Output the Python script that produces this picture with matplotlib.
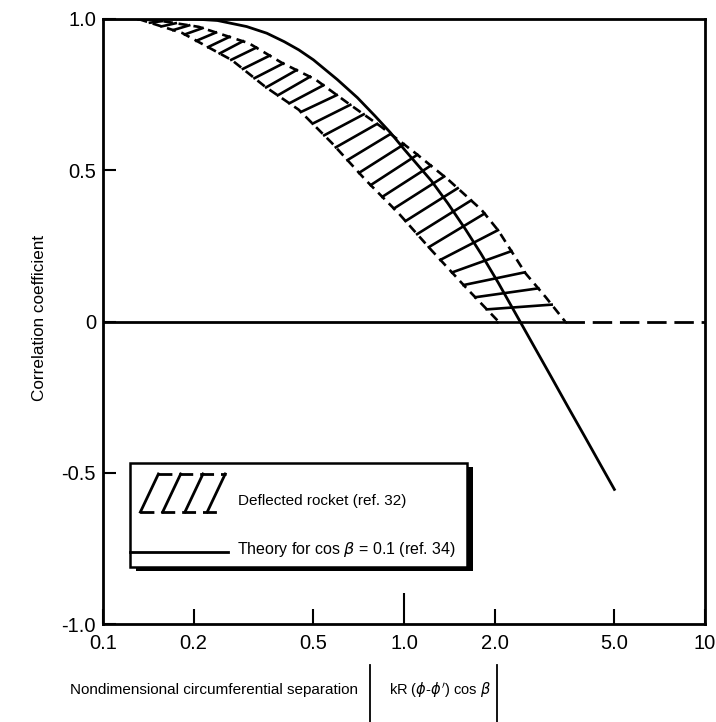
import matplotlib
matplotlib.use("Agg")
import matplotlib.pyplot as plt
from matplotlib.lines import Line2D
from matplotlib.patches import Rectangle
import numpy as np

plt.rcParams['font.family'] = ['Liberation Sans', 'DejaVu Sans']

# theory curve, cos beta = 0.1 (ref. 34)
theory_x = [0.1, 0.2, 0.24, 0.3, 0.35, 0.4, 0.447, 0.5, 0.6, 0.7, 0.8, 0.9, 1.0,
            1.233, 1.4, 1.6, 1.8, 2.06, 2.25, 2.43, 2.7, 3.08, 3.5, 4.0, 4.5, 5.0]
theory_y = [1.0, 1.0, 0.995, 0.975, 0.953, 0.925, 0.898, 0.865, 0.80, 0.74, 0.68, 0.625, 0.57,
            0.465, 0.39, 0.305, 0.225, 0.127, 0.059, 0.0, -0.081, -0.182, -0.281, -0.383, -0.474, -0.555]

# deflected rocket band (ref. 32)
band_up_x = [0.142, 0.208, 0.305, 0.393, 0.508, 0.655, 0.842, 1.09, 1.406, 1.81, 2.06, 2.53, 2.96, 3.43]
band_up_y = [1.0, 0.974, 0.92, 0.855, 0.80, 0.72, 0.643, 0.557, 0.468, 0.369, 0.30, 0.16, 0.08, 0.0]
band_lo_x = [0.131, 0.183, 0.268, 0.347, 0.447, 0.576, 0.745, 0.959, 1.233, 1.6, 2.06]
band_lo_y = [1.0, 0.954, 0.864, 0.775, 0.70, 0.59, 0.468, 0.358, 0.236, 0.114, 0.0]

xticks = [0.1, 0.2, 0.5, 1.0, 2.0, 5.0, 10]
xtick_labels = ['0.1', '0.2', '0.5', '1.0', '2.0', '5.0', '10']
yticks = [-1.0, -0.5, 0, 0.5, 1.0]
ytick_labels = ['-1.0', '-0.5', '0', '0.5', '1.0']

fig = plt.figure(figsize=(7.16, 7.22), dpi=100)
ax = fig.add_axes([0.1439, 0.1357, 0.8407, 0.838])
ax.set_xscale('log')
ax.set_xlim(0.1, 10)
ax.set_ylim(-1.0, 1.0)

lw = 2.0

# zero line: solid up to the band, dashed after it
ax.plot([0.1, band_lo_x[-1]], [0, 0], color='black', lw=lw, solid_capstyle='butt')
ax.plot([band_up_x[-1], 10], [0, 0], color='black', lw=lw, dashes=(7, 2.8))

# hatch strokes across the band
n = 32
t = np.linspace(0, 1, n)
lu = np.log10(band_up_x)
ll = np.log10(band_lo_x)
xu = 10 ** (lu[0] + t * (lu[-1] - lu[0]))
xl = 10 ** (ll[0] + t * (ll[-1] - ll[0]))
yu = np.interp(np.log10(xu), lu, band_up_y)
yl = np.interp(np.log10(xl), ll, band_lo_y)
for i in range(n):
    ax.plot([xl[i], xu[i]], [yl[i], yu[i]], color='black', lw=lw * 0.95)
ax.plot(band_up_x, band_up_y, color='black', lw=lw * 0.95, dashes=(3.5, 2.2))
ax.plot(band_lo_x, band_lo_y, color='black', lw=lw * 0.95, dashes=(3.5, 2.2))

# theory curve
ax.plot(theory_x, theory_y, color='black', lw=lw)

# axes styling
for side in ['top', 'right', 'bottom', 'left']:
    ax.spines[side].set_linewidth(2.0)
ax.set_xticks(xticks)
ax.set_xticklabels(xtick_labels)
ax.xaxis.set_minor_locator(matplotlib.ticker.NullLocator())
ax.set_yticks(yticks)
ax.set_yticklabels(ytick_labels)
ax.tick_params(axis='x', direction='in', length=11, width=1.5, labelsize=14.5, pad=7)
ax.tick_params(axis='y', direction='in', length=9, width=1.5, labelsize=14.5, pad=5)
ax.xaxis.get_major_ticks()[3].tick1line.set_markersize(22)

# legend box drawn by hand
ax.add_patch(Rectangle((0.055, 0.088), 0.56, 0.172, transform=ax.transAxes,
                       facecolor='black', edgecolor='none', zorder=4))
ax.add_patch(Rectangle((0.045, 0.094), 0.56, 0.172, transform=ax.transAxes,
                       facecolor='white', edgecolor='black', lw=1.8, zorder=5))
# legend hatch sample
hx0, hx1, hy0, hy1 = 0.062, 0.205, 0.185, 0.248
for k in range(4):
    xa = hx0 + k * 0.037
    ax.add_line(Line2D([xa, xa + 0.03], [hy0, hy1], transform=ax.transAxes,
                       color='black', lw=2.0, zorder=6))
ax.add_line(Line2D([hx0 + 0.03, hx1], [hy1, hy1], transform=ax.transAxes,
                   color='black', lw=2.0, dashes=(5, 2.5), zorder=6))
ax.add_line(Line2D([hx0, hx1 - 0.01], [hy0, hy0], transform=ax.transAxes,
                   color='black', lw=2.0, dashes=(5, 2.5), zorder=6))
ax.text(0.224, 0.203, 'Deflected rocket (ref. 32)', transform=ax.transAxes,
        fontsize=11, va='center', ha='left', zorder=6)
ax.add_line(Line2D([0.045, 0.207], [0.119, 0.119], transform=ax.transAxes,
                   color='black', lw=lw, zorder=6))
ax.text(0.222, 0.124, r'Theory for cos $\beta$ = 0.1 (ref. 34)', transform=ax.transAxes,
        fontsize=11.5, va='center', ha='left', zorder=6)

# axis labels
fig.text(40 / 716, 1 - 318 / 722, 'Correlation coefficient', rotation=90,
         ha='center', va='center', fontsize=12.3)
fig.text(70 / 716, 1 - 690 / 722, 'Nondimensional circumferential separation',
         ha='left', va='center', fontsize=11)
fig.text(389 / 716, 1 - 690 / 722, r"kR ($\phi$-$\phi'$) cos $\beta$",
         ha='left', va='center', fontsize=10.5)
for bx in [370 / 716, 497 / 716]:
    fig.add_artist(Line2D([bx, bx], [0.0, 1 - 665 / 722], transform=fig.transFigure,
                          color='black', lw=1.3))

fig.savefig('out.png', dpi=100)
